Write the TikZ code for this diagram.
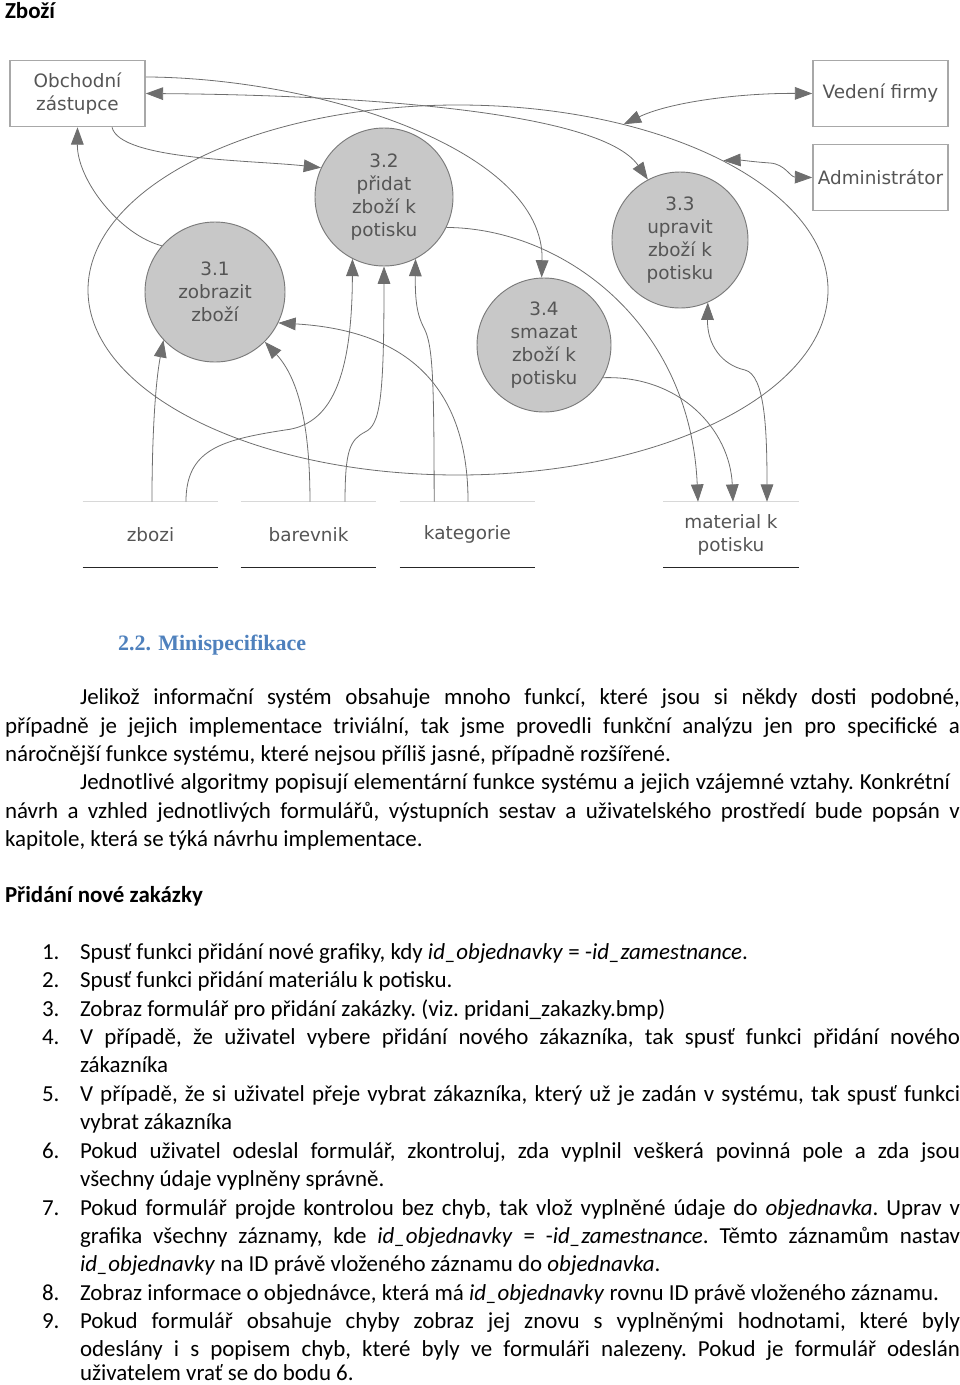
\documentclass[tikz,border=0pt]{standalone}
\usepackage{fontspec}
\setmainfont{Carlito}
\newfontfamily\diafont{DejaVu Sans}
\newfontfamily\headfont{Liberation Serif}
\usetikzlibrary{shapes.geometric,arrows.meta,calc}
\definecolor{diatext}{HTML}{555555}
\definecolor{boxgray}{HTML}{A8A8A8}
\definecolor{circfill}{HTML}{C8C8C8}
\definecolor{circline}{HTML}{7A7A7A}
\definecolor{linegray}{HTML}{6E6E6E}
\definecolor{storetopc}{HTML}{D8D8D8}
\definecolor{headblue}{HTML}{4F81BD}
\newcommand\bodysize{\fontsize{17.2pt}{21pt}\selectfont\frenchspacing}
\newcommand\diasize{\fontsize{13.8pt}{17.25pt}\selectfont}
\tikzset{
  dfdtip/.tip={Triangle[length=13pt,width=9.5pt]},
  ent/.style={draw=boxgray, line width=1.2pt, minimum width=101.25pt, minimum height=49.5pt, inner sep=0pt, align=center, font=\diafont\diasize, text=diatext},
  proc/.style={circle, draw=circline, fill=circfill, line width=0.7pt, inner sep=0pt, align=center, font=\diafont\diasize, text=diatext},
  store/.style={minimum width=101.25pt, minimum height=48.75pt, inner sep=0pt, align=center, font=\diafont\diasize, text=diatext},
  storetop/.style={draw=storetopc, line width=0.9pt},
  storebot/.style={draw=black!85, line width=1.1pt},
  sysline/.style={draw=linegray, line width=0.6pt},
  flow/.style={draw=linegray, line width=0.6pt, -{dfdtip}},
  bflow/.style={draw=linegray, line width=0.6pt, {dfdtip}-{dfdtip}},
  txt/.style={inner sep=0pt, outer sep=0pt, font=\bodysize, text=black, anchor=base west},
}
\begin{document}
\begin{tikzpicture}[x=0.75pt,y=-0.75pt]
\useasboundingbox (0,0) rectangle (960,1385);

% title
\node[txt, font=\bodysize\bfseries] (title) at (5,18) {Zboží};

% system boundary
\node[ellipse, sysline, minimum width=555pt, minimum height=277.5pt, inner sep=0pt] (sys) at (458,290) {};

% external entities
\node[ent] (oz) at (77.5,93.5) {Obchodní\\zástupce};
\node[ent] (vf) at (880.5,93.5) {Vedení firmy};
\node[ent] (adm) at (880.5,177.5) {Administrátor};

% processes
\node[proc, minimum size=103.5pt] (c32) at (384,197) {3.2\\přidat\\zboží k\\potisku};
\node[proc, minimum size=105pt] (c31) at (215,292) {3.1\\zobrazit\\zboží};
\node[proc, minimum size=102pt] (c33) at (680,240) {3.3\\upravit\\zboží k\\potisku};
\node[proc, minimum size=100.5pt] (c34) at (544,345) {3.4\\smazat\\zboží k\\potisku};

% data stores
\node[store] (zb) at (150.5,534.5) {zbozi};
\node[store] (bar) at (308.5,534.5) {barevnik};
\node[store] (kat) at (467.5,534.5) {kategorie};
\node[store] (mat) at (731,534.5) {material k\\potisku};
\foreach \s in {zb,bar,kat,mat}{
  \draw[storetop] (\s.north west) -- (\s.north east);
  \draw[storebot] (\s.south west) -- (\s.south east);
}

% flows
\draw[flow] ([xshift=25.9pt]oz.south) .. controls (120,160) and (250,160) .. (c32.155);
\draw[flow] (c31.139) .. controls (120,235) and (77,180) .. (oz.south);
\draw[flow] ([yshift=12.4pt]oz.east) .. controls (320,78) and (545,150) .. (c34.92);
\draw[bflow] (oz.east) .. controls (350,95) and (600,110) .. (c33.118);
\draw[flow] (c32.334) .. controls (560,228) and (690,320) .. ([xshift=-24.75pt]mat.north);
\draw[flow] (c34.331) .. controls (680,375) and (730,430) .. ([xshift=1.5pt]mat.north);
\draw[bflow] (c33.294) .. controls (707,345) and (722,365) .. (745,370) .. controls (765,375) and (767,430) .. ([xshift=27pt]mat.north);
\draw[bflow] (vf.west) .. controls (740,93) and (670,102) .. (sys.45.5);
\draw[bflow] (adm.west) .. controls (790,177) and (785,164) .. (770,163) .. controls (755,162) and (740,160) .. (sys.26);
\draw[flow] ([xshift=1.1pt]zb.north) .. controls (152,440) and (155,385) .. (c31.223);
\draw[flow] ([xshift=26.6pt]zb.north) .. controls (186,450) and (220,440) .. (285,430) .. controls (330,425) and (352,380) .. (c32.243);
\draw[flow] ([xshift=1.1pt]bar.north) .. controls (310,430) and (300,380) .. (c31.315);
\draw[flow] ([xshift=27.4pt]bar.north) .. controls (345,450) and (350,440) .. (365,432) .. controls (380,425) and (384,400) .. (c32.270);
\draw[flow] ([xshift=-25pt]kat.north) .. controls (434,380) and (433,345) .. (424,328) .. controls (417,315) and (415,300) .. (c32.297);
\draw[flow] ([xshift=0.4pt]kat.north) .. controls (468,380) and (400,330) .. (c31.334);

% heading
\node[txt, font=\headfont\fontsize{16.5pt}{20pt}\selectfont\bfseries, text=headblue] (h22) at (118,650) {2.2. Minispecifikace};

% paragraphs
\node[txt] (p1) at (80,704) {\makebox[660pt][s]{Jelikož informační systém obsahuje mnoho funkcí, které jsou si někdy dosti podobné,}};
\node[txt] (p2) at (5,733) {\makebox[716.25pt][s]{případně je jejich implementace triviální, tak jsme provedli funkční analýzu jen pro specifické a}};
\node[txt] (p3) at (5,761) {náročnější funkce systému, které nejsou příliš jasné, případně rozšířené.};
\node[txt] (p4) at (80,789) {\makebox[652.5pt][s]{Jednotlivé algoritmy popisují elementární funkce systému a jejich vzájemné vztahy. Konkrétní}};
\node[txt] (p5) at (5,818) {\makebox[716.25pt][s]{návrh a vzhled jednotlivých formulářů, výstupních sestav a uživatelského prostředí bude popsán v}};
\node[txt] (p6) at (5,846) {kapitole, která se týká návrhu implementace.};

\node[txt, font=\bodysize\bfseries] (sub) at (5,902) {Přidání nové zakázky};

% list numbers
\node[txt] (n1) at (42,959) {1.};
\node[txt] (n2) at (42,987) {2.};
\node[txt] (n3) at (42,1016) {3.};
\node[txt] (n4) at (42,1044) {4.};
\node[txt] (n5) at (42,1101) {5.};
\node[txt] (n6) at (42,1158) {6.};
\node[txt] (n7) at (42,1215) {7.};
\node[txt] (n8) at (42,1300) {8.};
\node[txt] (n9) at (42,1328) {9.};

% list text
\node[txt] (l1) at (80,959) {Spusť funkci přidání nové grafiky, kdy \textit{id\_objednavky} = -\textit{id\_zamestnance}.};
\node[txt] (l2) at (80,987) {Spusť funkci přidání materiálu k potisku.};
\node[txt] (l3) at (80,1016) {Zobraz formulář pro přidání zakázky. (viz. pridani\_zakazky.bmp)};
\node[txt] (l4a) at (80,1044) {\makebox[660pt][s]{V případě, že uživatel vybere přidání nového zákazníka, tak spusť funkci přidání nového}};
\node[txt] (l4b) at (80,1072) {zákazníka};
\node[txt] (l5a) at (80,1101) {\makebox[660pt][s]{V případě, že si uživatel přeje vybrat zákazníka, který už je zadán v systému, tak spusť funkci}};
\node[txt] (l5b) at (80,1129) {vybrat zákazníka};
\node[txt] (l6a) at (80,1158) {\makebox[660pt][s]{Pokud uživatel odeslal formulář, zkontroluj, zda vyplnil veškerá povinná pole a zda jsou}};
\node[txt] (l6b) at (80,1186) {všechny údaje vyplněny správně.};
\node[txt] (l7a) at (80,1215) {\makebox[660pt][s]{Pokud formulář projde kontrolou bez chyb, tak vlož vyplněné údaje do \textit{objednavka}. Uprav v}};
\node[txt] (l7b) at (80,1243) {\makebox[660pt][s]{grafika všechny záznamy, kde \textit{id\_objednavky} = -\textit{id\_zamestnance}. Těmto záznamům nastav}};
\node[txt] (l7c) at (80,1271) {\textit{id\_objednavky} na ID právě vloženého záznamu do \textit{objednavka}.};
\node[txt] (l8) at (80,1300) {Zobraz informace o objednávce, která má \textit{id\_objednavky} rovnu ID právě vloženého záznamu.};
\node[txt] (l9a) at (80,1328) {\makebox[660pt][s]{Pokud formulář obsahuje chyby zobraz jej znovu s vyplněnými hodnotami, které byly}};
\node[txt] (l9b) at (80,1356) {\makebox[660pt][s]{odeslány i s popisem chyb, které byly ve formuláři nalezeny. Pokud je formulář odeslán}};
\node[txt] (l9c) at (80,1380) {uživatelem vrať se do bodu 6.};
\end{tikzpicture}
\end{document}
